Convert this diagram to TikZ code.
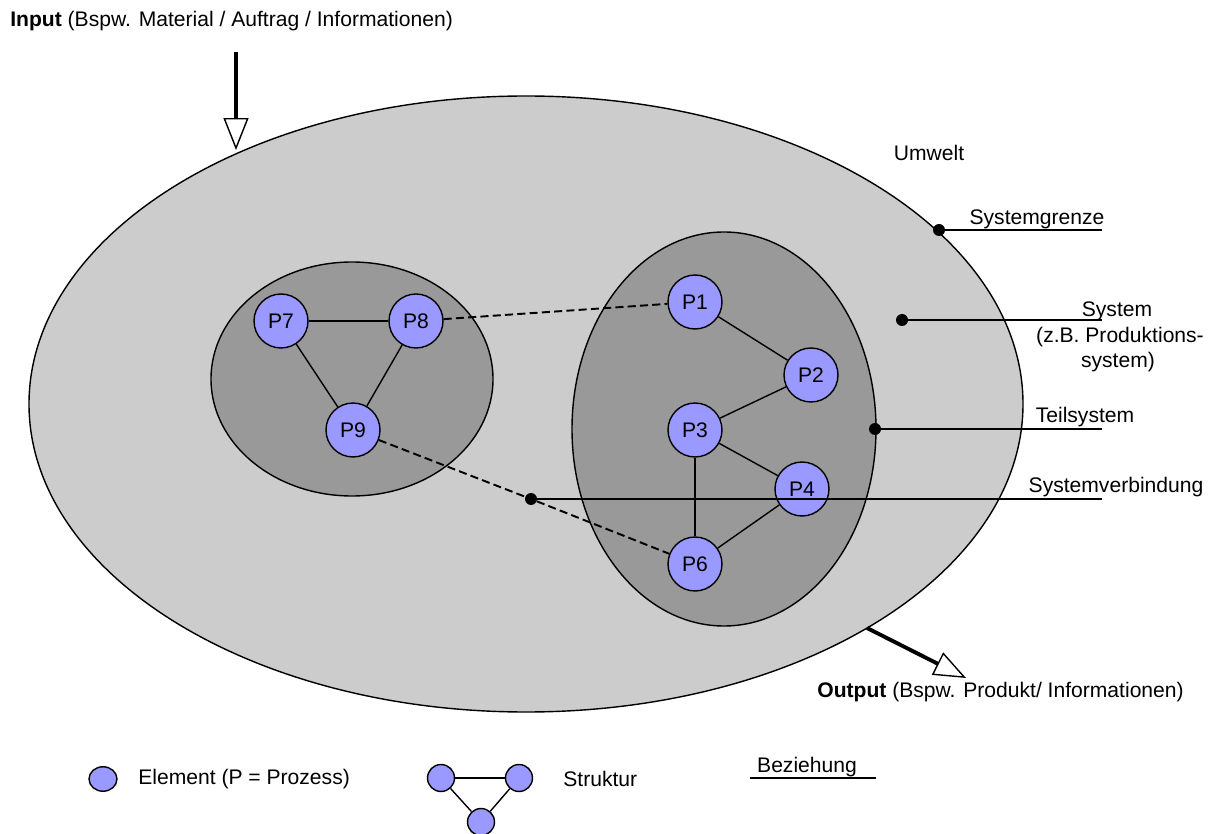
\documentclass[tikz,border=0pt]{standalone}
\usepackage{fontspec}
\setmainfont{Liberation Sans}
\usetikzlibrary{arrows.meta,shapes.geometric}
\definecolor{envgray}{HTML}{CCCCCC}
\definecolor{subgray}{HTML}{999999}
\definecolor{procblue}{HTML}{9999FF}
\begin{document}
\begin{tikzpicture}[x=0.02cm, y=-0.02cm,
  txt/.style={font=\fontsize{12}{14.4}\selectfont, inner sep=0pt},
  proc/.style={circle, draw, fill=procblue, line width=0.8pt, minimum size=1.08cm, inner sep=0pt, font=\fontsize{12}{14.4}\selectfont},
  mini/.style={circle, draw, fill=procblue, line width=0.8pt, minimum size=0.54cm, inner sep=0pt},
  minielem/.style={ellipse, draw, fill=procblue, line width=0.8pt, minimum width=0.56cm, minimum height=0.49cm, inner sep=0pt},
  link/.style={line width=0.8pt},
  dlink/.style={line width=1.1pt, dash pattern=on 4.6pt off 2.4pt},
  marker/.style={circle, fill=black, minimum size=0.24cm, inner sep=0pt},
  flow/.style={line width=2.2pt, -{Triangle[open, length=0.64cm, width=0.5cm, line width=0.8pt]}},
]
\useasboundingbox (0,0) rectangle (1214,834);

% system and subsystems
\draw[fill=envgray, line width=0.8pt] (526,404) ellipse [x radius=497, y radius=308];
\draw[fill=subgray, line width=0.8pt] (352,379) ellipse [x radius=141, y radius=117];
\draw[fill=subgray, line width=0.8pt] (724,429) ellipse [x radius=152, y radius=197];

% input / output flows
\coordinate (inS) at (236,52);
\coordinate (inE) at (236,150);
\coordinate (outS) at (867,628);
\coordinate (outE) at (966,678);
\draw[flow] (inS) -- (inE);
\draw[flow] (outS) -- (outE);

% process elements
\node[proc] (P7) at (281,321) {P7};
\node[proc] (P8) at (416,321) {P8};
\node[proc] (P9) at (353,430) {P9};
\node[proc] (P1) at (695,302) {P1};
\node[proc] (P2) at (811,375) {P2};
\node[proc] (P3) at (695,430) {P3};
\node[proc] (P4) at (802,489) {P4};
\node[proc] (P6) at (695,564) {P6};

% connection between subsystems
\node[marker] (conn) at (531,499) {};
\draw[dlink] (P8) -- (P1);
\draw[dlink] (P9) -- (conn) -- (P6);

% structure links
\draw[link] (P7) -- (P8);
\draw[link] (P7) -- (P9);
\draw[link] (P8) -- (P9);
\draw[link] (P1) -- (P2);
\draw[link] (P2) -- (P3);
\draw[link] (P3) -- (P4);
\draw[link] (P3) -- (P6);
\draw[link] (P4) -- (P6);

% label lines with markers
\node[marker] (mGrenze) at (939,230) {};
\node[marker] (mSystem) at (902,320) {};
\node[marker] (mTeil) at (875,429) {};
\coordinate (eGrenze) at (1102,230);
\coordinate (eSystem) at (1102,320);
\coordinate (eTeil) at (1102,429);
\coordinate (eVerb) at (1102,499);
\draw[link] (mGrenze.center) -- (eGrenze);
\draw[link] (mSystem.center) -- (eSystem);
\draw[link] (mTeil.center) -- (eTeil);
\draw[link] (conn.center) -- (eVerb);

% texts
\node[txt, anchor=base west] (input) at (10,27) {\textbf{Input} (Bspw. Material / Auftrag / Informationen)};
\node[txt, anchor=base west] (output) at (817,697) {\textbf{Output} (Bspw. Produkt/ Informationen)};
\node[txt] (umwelt) at (929,153) {Umwelt};
\node[txt, anchor=base] (tGrenze) at (1037,225) {Systemgrenze};
\node[txt, anchor=base] (tSys1) at (1117,317) {System};
\node[txt, anchor=base] (tSys2) at (1120,343) {(z.B. Produktions-};
\node[txt, anchor=base] (tSys3) at (1118,368) {system)};
\node[txt, anchor=base] (tTeil) at (1085,423) {Teilsystem};
\node[txt, anchor=base] (tVerb) at (1116,493) {Systemverbindung};

% legend
\node[minielem] (lElem) at (103,779) {};
\node[txt, anchor=west] (tElem) at (138,779) {Element (P = Prozess)};
\node[mini] (lA) at (441,778) {};
\node[mini] (lB) at (519,778) {};
\node[mini] (lC) at (481,822) {};
\draw[link] (lA) -- (lB);
\draw[link] (lA) -- (lC);
\draw[link] (lB) -- (lC);
\node[txt, anchor=west] (tStruk) at (563,779) {Struktur};
\coordinate (bzA) at (750,778);
\coordinate (bzB) at (876,778);
\draw[link] (bzA) -- (bzB);
\node[txt, anchor=base] (tBez) at (807,772) {Beziehung};
\end{tikzpicture}
\end{document}
